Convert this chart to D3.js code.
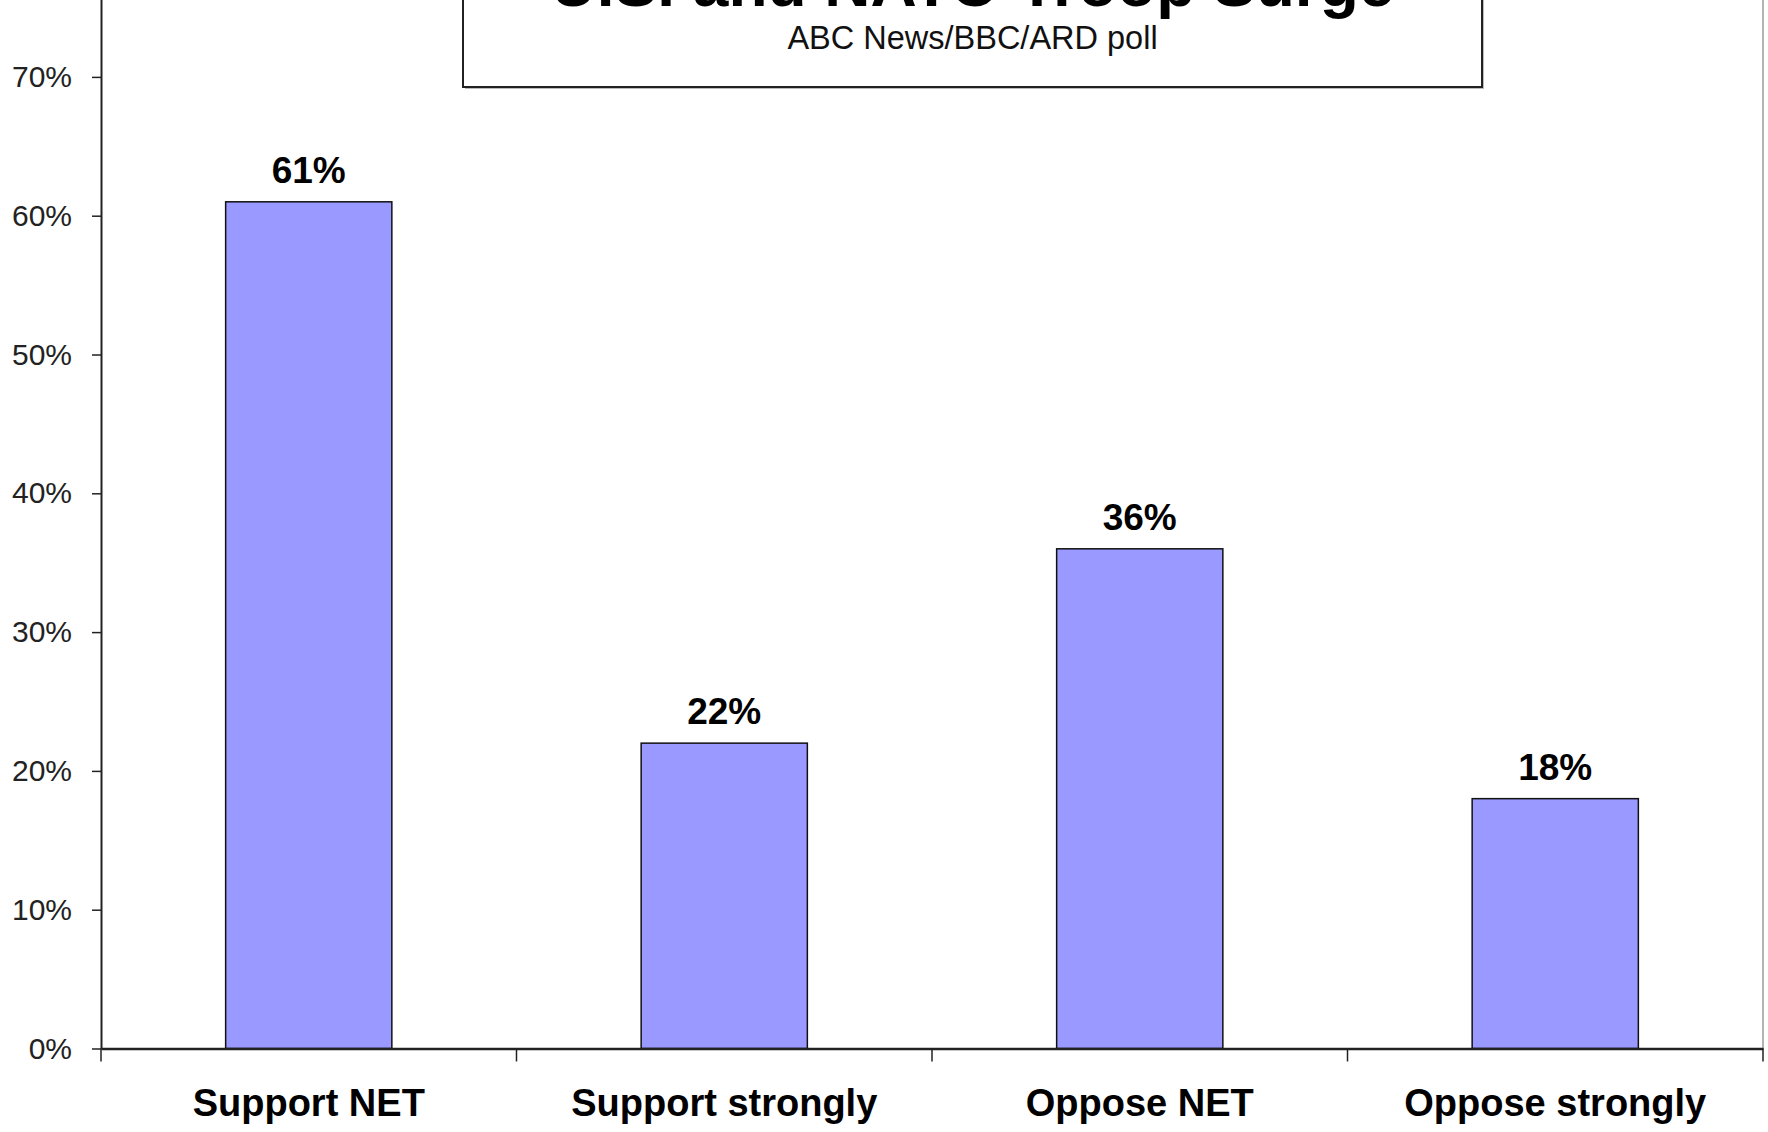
<!DOCTYPE html>
<html>
<head>
<meta charset="utf-8">
<script src="https://cdn.jsdelivr.net/npm/d3@7"></script>
<style>
  body { margin: 0; background: #fff; }
  svg text { font-family: "Liberation Sans", Arial, sans-serif; }
</style>
</head>
<body>
<script>
const width = 1768;
const height = 1132;
const marginLeft = 101;
const marginRight = 5;
const axisY = 1048.5;

// data
const categories = ["Support NET", "Support strongly", "Oppose NET", "Oppose strongly"];
const values = [0.61, 0.22, 0.36, 0.18];
const yTicks = [0, 0.1, 0.2, 0.3, 0.4, 0.5, 0.6, 0.7];
const title = "U.S. and NATO Troop Surge";
const subtitle = "ABC News/BBC/ARD poll";

const svg = d3.select("body").append("svg")
  .attr("width", width)
  .attr("height", height);

const x = d3.scaleBand()
  .domain(categories)
  .range([marginLeft, width - marginRight])
  .paddingInner(0.6)
  .paddingOuter(0.3);

// 10% is about 138.8px; axis max (80%) sits above the cropped top
const y = d3.scaleLinear()
  .domain([0, 0.8])
  .range([axisY, axisY - 8 * 138.8]);

// right edge of plot area
svg.append("line")
  .attr("x1", width - marginRight).attr("x2", width - marginRight)
  .attr("y1", 0).attr("y2", axisY)
  .attr("stroke", "#b4b4b4")
  .attr("stroke-width", 2);

// bars
svg.append("g")
  .selectAll("rect")
  .data(values)
  .join("rect")
    .attr("x", (d, i) => x(categories[i]))
    .attr("y", d => y(d))
    .attr("width", x.bandwidth())
    .attr("height", d => y(0) - y(d))
    .attr("fill", "#9999ff")
    .attr("stroke", "#111")
    .attr("stroke-width", 1.5);

// value labels
svg.append("g")
  .selectAll("text")
  .data(values)
  .join("text")
    .attr("x", (d, i) => x(categories[i]) + x.bandwidth() / 2)
    .attr("y", d => y(d) - 19)
    .attr("text-anchor", "middle")
    .style("font-size", "37px")
    .style("font-weight", "bold")
    .attr("fill", "#000")
    .text(d => d3.format(".0%")(d));

// y axis
const yAxis = svg.append("g")
  .attr("transform", `translate(${marginLeft},0)`)
  .call(d3.axisLeft(y).tickValues(yTicks).tickFormat(d3.format(".0%"))
    .tickSizeInner(9).tickSizeOuter(0).tickPadding(20));
yAxis.select(".domain").attr("stroke", "#222").attr("stroke-width", 2);
yAxis.selectAll(".tick line").attr("stroke", "#222").attr("stroke-width", 1.5);
yAxis.selectAll(".tick text")
  .style("font-size", "30px")
  .attr("fill", "#222");

// x axis: category labels
const xAxis = svg.append("g")
  .attr("transform", `translate(0,${axisY})`)
  .call(d3.axisBottom(x).tickSize(0).tickPadding(41));
xAxis.select(".domain").attr("stroke", "#222").attr("stroke-width", 2.5);
xAxis.selectAll(".tick text")
  .style("font-size", "38px")
  .style("font-weight", "bold")
  .attr("fill", "#000");

// category boundary ticks
const bounds = d3.range(categories.length + 1)
  .map(i => x.range()[0] + i * x.step());
svg.append("g")
  .selectAll("line")
  .data(bounds)
  .join("line")
    .attr("x1", d => Math.min(d, width - marginRight))
    .attr("x2", d => Math.min(d, width - marginRight))
    .attr("y1", axisY)
    .attr("y2", axisY + 13)
    .attr("stroke", "#222")
    .attr("stroke-width", 1.5);

// title box (cropped at top)
const boxLeft = 463, boxRight = 1482, boxBottom = 87;
svg.append("rect")
  .attr("x", boxLeft + 2)
  .attr("y", -40)
  .attr("width", boxRight - boxLeft)
  .attr("height", boxBottom + 42)
  .attr("fill", "#bbb");
svg.append("rect")
  .attr("x", boxLeft)
  .attr("y", -40)
  .attr("width", boxRight - boxLeft)
  .attr("height", boxBottom + 40)
  .attr("fill", "#fff")
  .attr("stroke", "#222")
  .attr("stroke-width", 2);

svg.append("text")
  .attr("x", (boxLeft + boxRight) / 2)
  .attr("y", 6)
  .attr("text-anchor", "middle")
  .style("font-size", "64px")
  .style("font-weight", "bold")
  .text(title);

svg.append("text")
  .attr("x", (boxLeft + boxRight) / 2)
  .attr("y", 49)
  .attr("text-anchor", "middle")
  .style("font-size", "32.5px")
  .attr("fill", "#111")
  .text(subtitle);
</script>
</body>
</html>
